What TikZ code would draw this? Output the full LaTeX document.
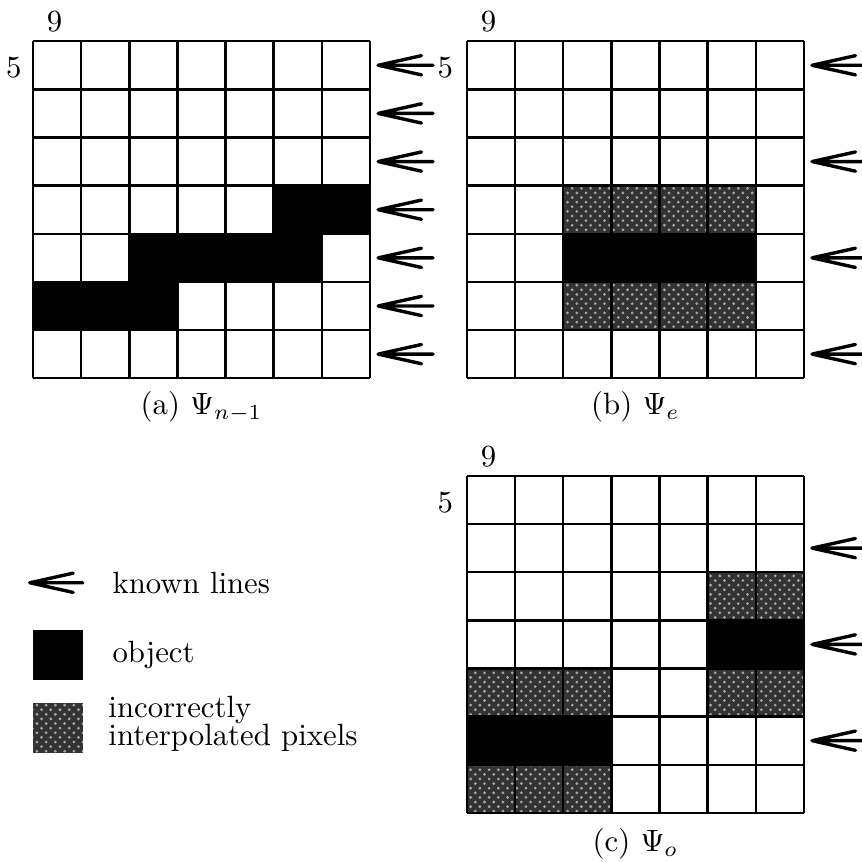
\documentclass[tikz,border=0pt]{standalone}
\usepackage{amsmath,amssymb}
\usetikzlibrary{patterns}
\begin{document}
\begin{tikzpicture}[x=.55cm,y=.55cm,line width=.8pt,
  obj/.style={fill=black},
  bad/.style={fill=black!80,postaction={pattern=crosshatch dots,pattern color=black!35}},
  known/.style={line width=1.1pt,line cap=round}]
\useasboundingbox (0,0) rectangle (17.886,17.906);
% (a) previous field
\begin{scope}[shift={(.686,10.05)}]
\fill[obj] (5,3) rectangle (7,4);
\fill[obj] (2,2) rectangle (6,3);
\fill[obj] (0,1) rectangle (3,2);
\draw (0,0) grid[step=1] (7,7);
\foreach \r in {1,...,7}{
  \draw[known] (7.17,7.5-\r) -- ++(.9,.2) (7.17,7.5-\r) -- ++(.9,-.2) (7.17,7.5-\r) -- ++(1.14,0);
}
\node (nineA) at (.45,7.4) {9};
\node[left] (fiveA) at (0,6.45) {5};
\node (capA) at (3.5,-.6) {(a)\ $\Psi_{n-1}$};
\end{scope}
% (b) even field
\begin{scope}[shift={(9.70,10.05)}]
\fill[bad] (2,3) rectangle (6,4);
\fill[obj] (2,2) rectangle (6,3);
\fill[bad] (2,1) rectangle (6,2);
\draw (0,0) grid[step=1] (7,7);
\foreach \r in {1,3,5,7}{
  \draw[known] (7.17,7.5-\r) -- ++(.9,.2) (7.17,7.5-\r) -- ++(.9,-.2) (7.17,7.5-\r) -- ++(1.14,0);
}
\node (nineB) at (.45,7.4) {9};
\node[left] (fiveB) at (-.05,6.45) {5};
\node (capB) at (3.5,-.6) {(b)\ $\Psi_e$};
\end{scope}
% (c) odd field
\begin{scope}[shift={(9.70,1.02)}]
\fill[bad] (5,4) rectangle (7,5);
\fill[obj] (5,3) rectangle (7,4);
\fill[bad] (5,2) rectangle (7,3);
\fill[bad] (0,2) rectangle (3,3);
\fill[obj] (0,1) rectangle (3,2);
\fill[bad] (0,0) rectangle (3,1);
\draw (0,0) grid[step=1] (7,7);
\foreach \r in {2,4,6}{
  \draw[known] (7.17,7.5-\r) -- ++(.9,.2) (7.17,7.5-\r) -- ++(.9,-.2) (7.17,7.5-\r) -- ++(1.14,0);
}
\node (nineC) at (.45,7.4) {9};
\node[left] (fiveC) at (-.05,6.45) {5};
\node (capC) at (3.5,-.65) {(c)\ $\Psi_o$};
\end{scope}
% legend
\draw[known] (.62,5.8) -- ++(.9,.2) (.62,5.8) -- ++(.9,-.2) (.62,5.8) -- ++(1.1,0);
\node[right] (keyKnown) at (2.1,5.8) {known lines};
\fill[obj] (.686,3.78) rectangle (1.72,4.82);
\node[right] (keyObj) at (2.1,4.3) {object};
\fill[bad] (.686,2.26) rectangle (1.72,3.30);
\node[right,align=left,inner sep=2pt] (keyBad) at (2.1,2.87) {incorrectly\\[-3pt]interpolated pixels};
\end{tikzpicture}
\end{document}
